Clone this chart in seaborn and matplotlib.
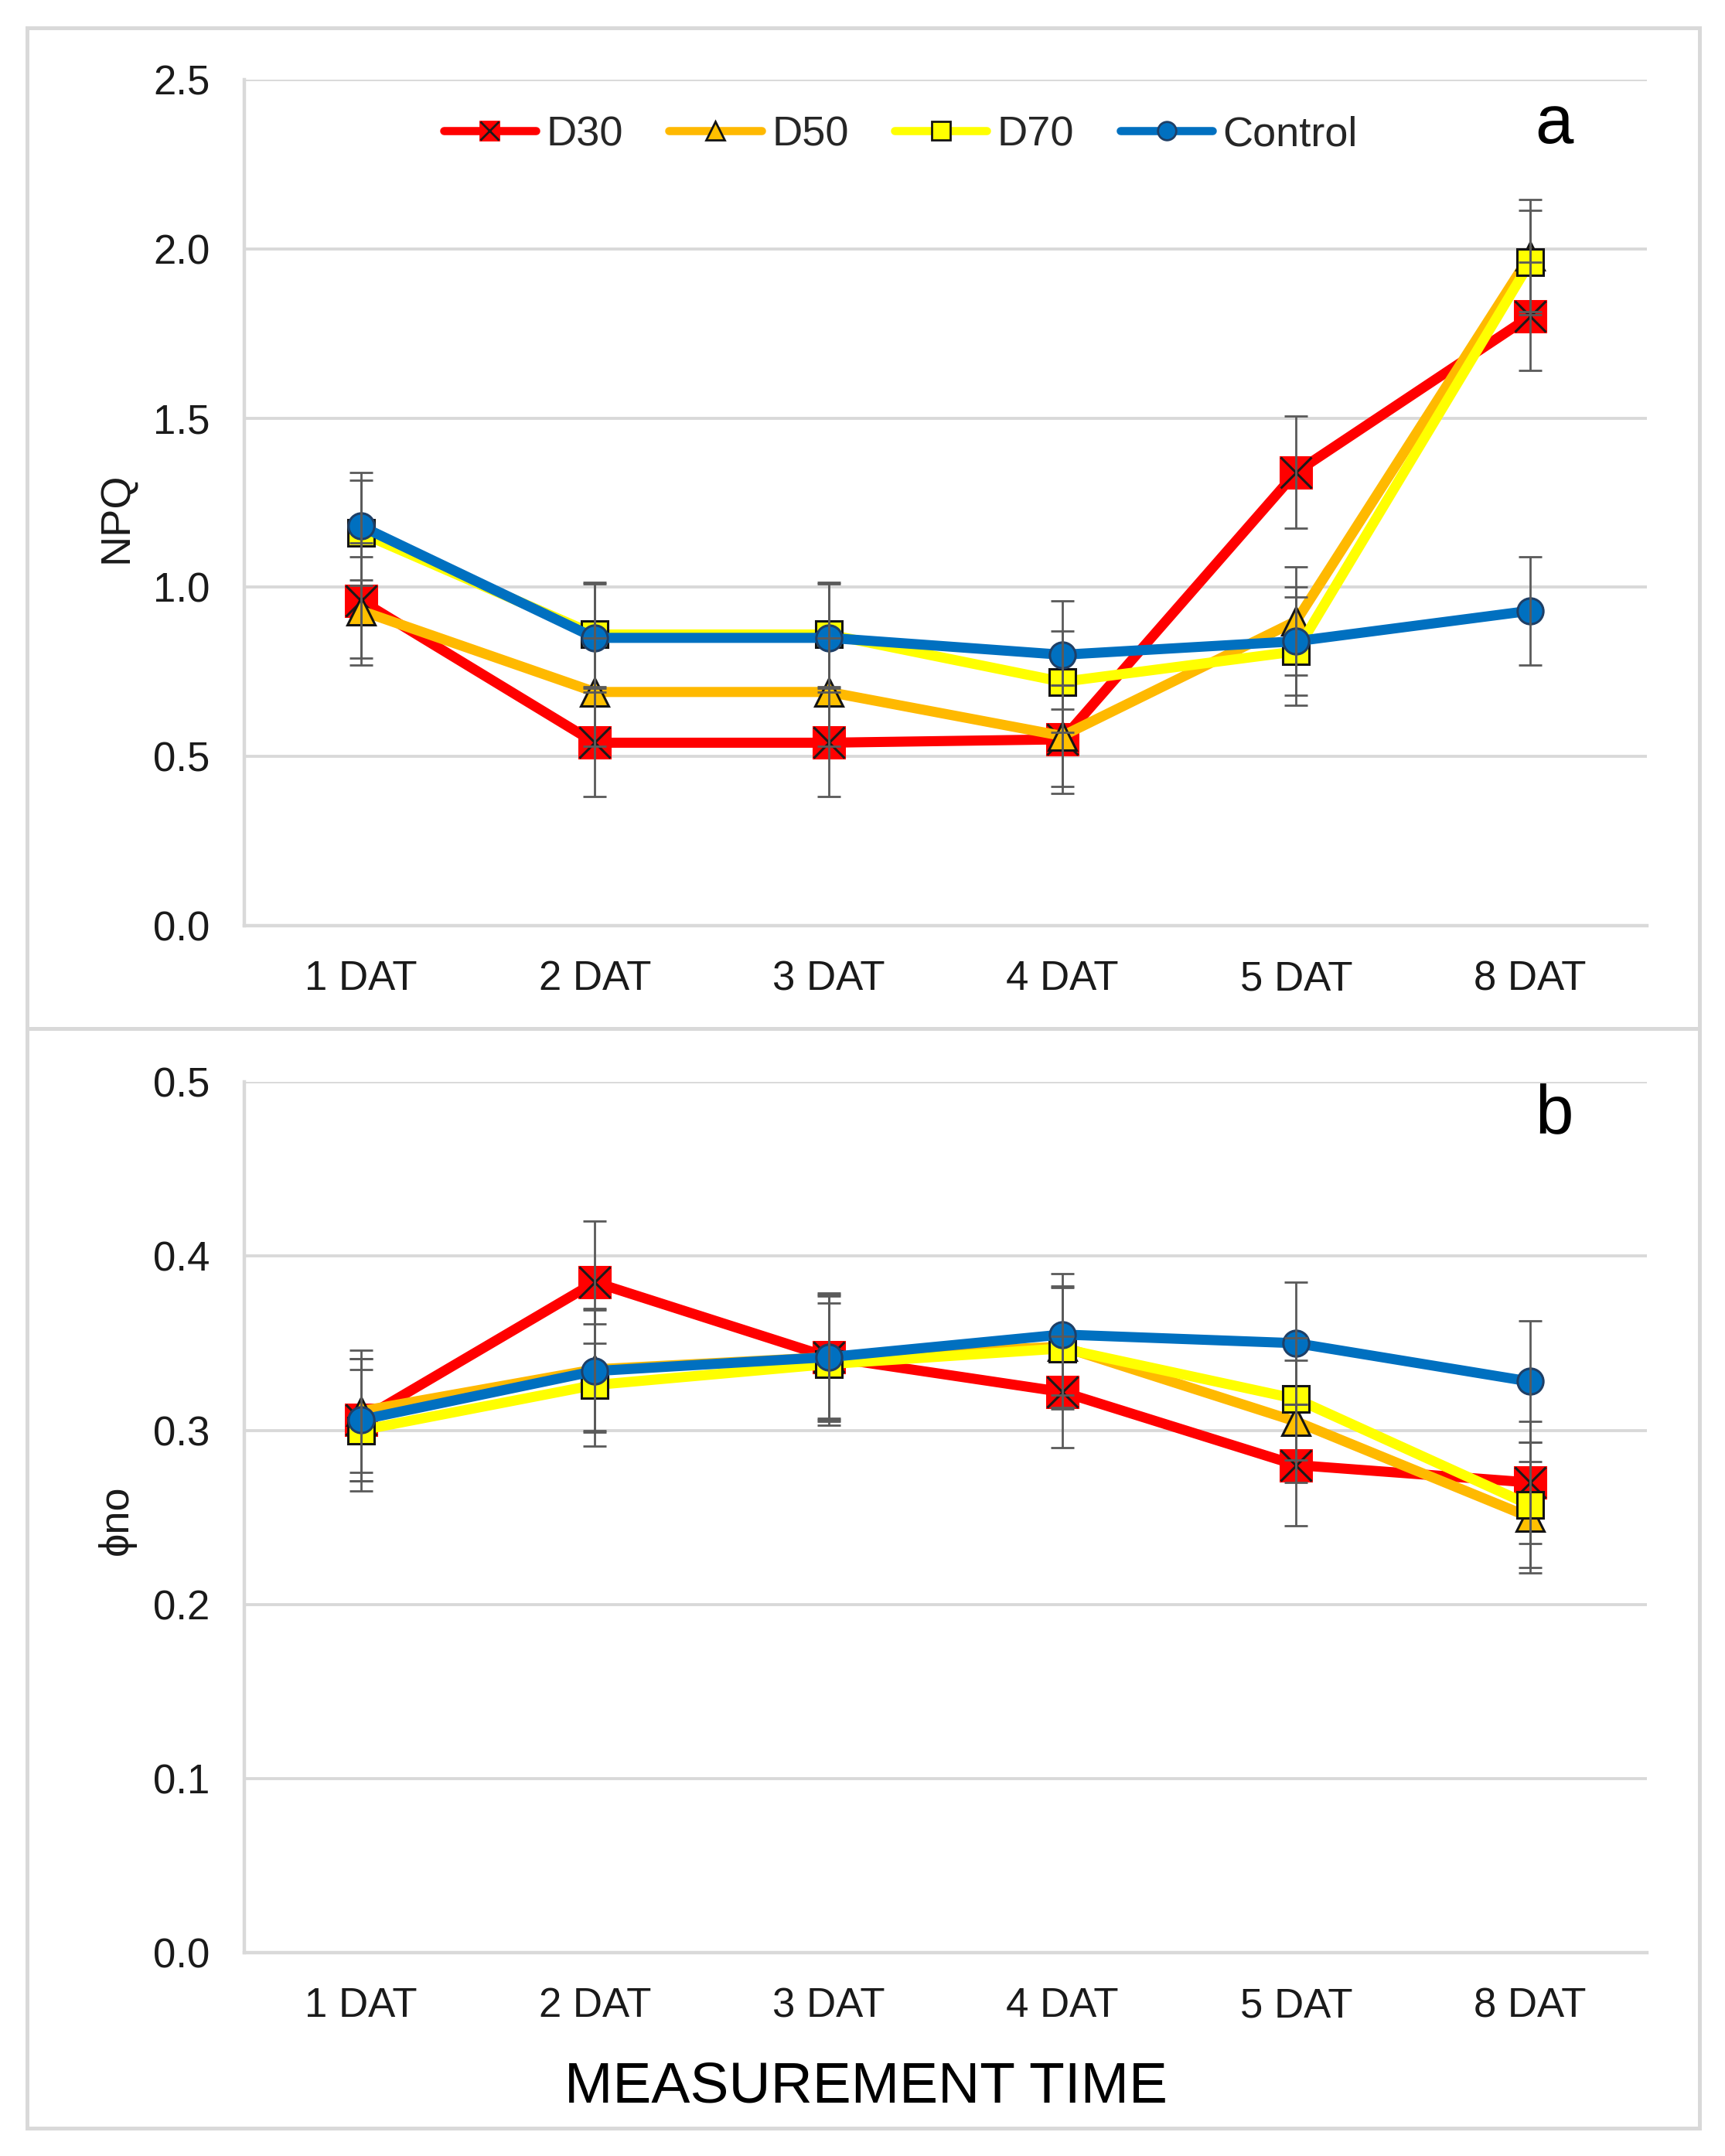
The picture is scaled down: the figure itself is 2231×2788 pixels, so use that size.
import numpy as np
import pandas as pd
import matplotlib
matplotlib.use("Agg")
import matplotlib.pyplot as plt
import seaborn as sns
from matplotlib.lines import Line2D
from matplotlib.patches import Rectangle
from matplotlib.legend_handler import HandlerTuple

# categories
times = ["1 DAT", "2 DAT", "3 DAT", "4 DAT", "5 DAT", "8 DAT"]
treatments = ["D30", "D50", "D70", "Control"]

# panel a: NPQ (mean, error)
npq_d30 = [0.96, 0.54, 0.54, 0.55, 1.34, 1.80]
npq_d50 = [0.93, 0.69, 0.69, 0.56, 0.90, 1.98]
npq_d70 = [1.16, 0.86, 0.86, 0.72, 0.81, 1.96]
npq_ctrl = [1.18, 0.85, 0.85, 0.80, 0.84, 0.93]
npq_err_d30 = [0.17, 0.16, 0.16, 0.16, 0.165, 0.16]
npq_err_d50 = [0.16, 0.16, 0.16, 0.15, 0.16, 0.165]
npq_err_d70 = [0.155, 0.155, 0.155, 0.15, 0.16, 0.155]
npq_err_ctrl = [0.16, 0.16, 0.16, 0.16, 0.16, 0.16]

# panel b: phi_NO (mean, error)
phi_d30 = [0.306, 0.385, 0.342, 0.322, 0.280, 0.270]
phi_d50 = [0.311, 0.335, 0.342, 0.348, 0.305, 0.250]
phi_d70 = [0.300, 0.326, 0.338, 0.347, 0.318, 0.257]
phi_ctrl = [0.306, 0.334, 0.342, 0.355, 0.350, 0.328]
phi_err_d30 = [0.035, 0.035, 0.035, 0.032, 0.035, 0.035]
phi_err_d50 = [0.035, 0.035, 0.036, 0.035, 0.035, 0.032]
phi_err_d70 = [0.035, 0.035, 0.035, 0.035, 0.035, 0.036]
phi_ctrl_err = [0.035, 0.035, 0.037, 0.035, 0.035, 0.035]


def long_frame(series, errors):
    rows = []
    for t, vals, errs in zip(treatments, series, errors):
        for i, (tm, v, e) in enumerate(zip(times, vals, errs)):
            rows.append({"treatment": t, "time": tm, "pos": i, "value": v, "err": e})
    return pd.DataFrame(rows)


df_npq = long_frame([npq_d30, npq_d50, npq_d70, npq_ctrl],
                    [npq_err_d30, npq_err_d50, npq_err_d70, npq_err_ctrl])
df_phi = long_frame([phi_d30, phi_d50, phi_d70, phi_ctrl],
                    [phi_err_d30, phi_err_d50, phi_err_d70, phi_ctrl_err])

sns.set_theme(style="white")
plt.rcParams["font.family"] = ["Liberation Sans", "DejaVu Sans"]

line_colors = {"D30": "#FF0000", "D50": "#FFB900", "D70": "#FFFF00", "Control": "#0070C0"}
face_colors = {"D30": "#FF0000", "D50": "#FFC000", "D70": "#FFFF00", "Control": "#0070C0"}
edge_colors = {"D30": "#FF0000", "D50": "#141414", "D70": "#141414", "Control": "#1F3F66"}
markers = {"D30": "s", "D50": "^", "D70": "s", "Control": "o"}
marker_sizes = {"D30": 14.4, "D50": 13.0, "D70": 12.5, "Control": 12.0}
grid_color = "#D9D9D9"
text_color = "#1a1a1a"

fig = plt.figure(figsize=(11.155, 13.94), dpi=200)
ax_a = fig.add_axes([0.1416, 0.5708, 0.8131, 0.3922])
ax_b = fig.add_axes([0.1416, 0.0944, 0.8131, 0.4037])


def draw_panel(ax, df, ymax, ystep):
    for k, t in enumerate(treatments):
        sub = df[df["treatment"] == t]
        z = 3 + k
        sns.lineplot(data=sub, x="pos", y="value", ax=ax, color=line_colors[t],
                     linewidth=4.7, marker=markers[t], markersize=marker_sizes[t],
                     markerfacecolor=face_colors[t], markeredgecolor=edge_colors[t],
                     markeredgewidth=1.1, legend=False, zorder=z, sort=False)
        if t == "D30":
            ax.scatter(sub["pos"], sub["value"], marker="x", color="#1a1a1a",
                       s=marker_sizes[t] ** 2, linewidths=1.1, zorder=z + 0.1)
        ax.errorbar(sub["pos"], sub["value"], yerr=sub["err"], fmt="none",
                    ecolor="#5A5A5A", elinewidth=1.0, capsize=5.4, capthick=1.0, zorder=20)
    ax.set_xlim(-0.5, len(times) - 0.5)
    ax.set_ylim(0, ymax)
    ax.set_yticks(np.arange(0, ymax + ystep / 2, ystep))
    ax.yaxis.set_major_formatter(matplotlib.ticker.FormatStrFormatter("%.1f"))
    ax.set_xticks(range(len(times)))
    ax.set_xticklabels(times)
    ax.set_xlabel("")
    ax.set_ylabel("")
    ax.grid(axis="y", color=grid_color, linewidth=1.4, zorder=0)
    ax.set_axisbelow(True)
    for s in ["top", "right"]:
        ax.spines[s].set_visible(False)
    for s in ["left", "bottom"]:
        ax.spines[s].set_color(grid_color)
        ax.spines[s].set_linewidth(1.6)
    ax.tick_params(axis="both", length=0, labelsize=19, labelcolor=text_color)
    ax.tick_params(axis="x", pad=16)
    ax.tick_params(axis="y", pad=16)


draw_panel(ax_a, df_npq, 2.5, 0.5)
draw_panel(ax_b, df_phi, 0.5, 0.1)

# legend
handles = []
for t in treatments:
    h = Line2D([], [], color=line_colors[t], linewidth=3.8, marker=markers[t],
               markersize=8.5, markerfacecolor=face_colors[t],
               markeredgecolor=edge_colors[t], markeredgewidth=1.0)
    if t == "D30":
        hx = Line2D([], [], linestyle="none", marker="x", color="#1a1a1a",
                    markersize=8.5, markeredgewidth=1.0)
        h = (h, hx)
    handles.append(h)
ax_a.legend(handles, treatments, loc="center", bbox_to_anchor=(0.468, 0.935),
            ncol=4, frameon=False, fontsize=19.5, handlelength=2.2,
            handletextpad=0.25, columnspacing=1.1,
            handler_map={tuple: HandlerTuple(ndivide=1)})

ax_a.text(0.934, 0.946, "a", transform=ax_a.transAxes, fontsize=32,
          ha="center", va="center", color="black")
ax_b.text(0.934, 0.962, "b", transform=ax_b.transAxes, fontsize=32,
          ha="center", va="center", color="black")

fig.text(0.0676, 0.760, "NPQ", rotation=90, ha="center", va="center",
         fontsize=19.5, color=text_color)
fig.text(0.0676, 0.295, "ϕno", rotation=90, ha="center", va="center",
         fontsize=19.5, color=text_color)
fig.text(0.502, 0.032, "MEASUREMENT TIME", ha="center", va="center",
         fontsize=27, color="black")

# outer panel frames
for y0, h in [(0.523, 0.464), (0.0128, 0.5102)]:
    fig.add_artist(Rectangle((0.0159, y0), 0.9691, h, transform=fig.transFigure,
                             fill=False, edgecolor=grid_color, linewidth=1.8))

fig.savefig("out.png", dpi=200, facecolor="white")
